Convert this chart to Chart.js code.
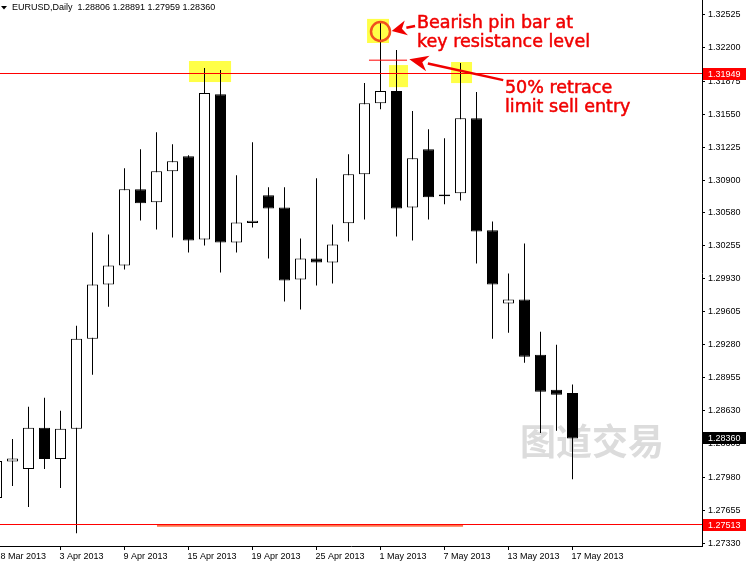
<!DOCTYPE html>
<html>
<head>
<meta charset="utf-8">
<script src="https://cdn.jsdelivr.net/npm/chart.js@4.4.1/dist/chart.umd.min.js"></script>
<style>
  html, body { margin: 0; padding: 0; background: #fff; }
  #wrap { width: 746px; height: 563px; position: relative; }
</style>
</head>
<body>
<div id="wrap"><canvas id="chart"></canvas></div>
<script>
// EURUSD daily candles, 28 Mar - 17 May 2013
var dates = ['28 Mar 2013', '29 Mar 2013', '1 Apr 2013', '2 Apr 2013', '3 Apr 2013', '4 Apr 2013', '5 Apr 2013',
    '8 Apr 2013', '9 Apr 2013', '10 Apr 2013', '11 Apr 2013', '12 Apr 2013', '15 Apr 2013', '16 Apr 2013',
    '17 Apr 2013', '18 Apr 2013', '19 Apr 2013', '22 Apr 2013', '23 Apr 2013', '24 Apr 2013', '25 Apr 2013',
    '26 Apr 2013', '29 Apr 2013', '30 Apr 2013', '1 May 2013', '2 May 2013', '3 May 2013', '6 May 2013',
    '7 May 2013', '8 May 2013', '9 May 2013', '10 May 2013', '13 May 2013', '14 May 2013', '15 May 2013',
    '16 May 2013', '17 May 2013'];
var opens = [1.27773, 1.28133, 1.28059, 1.28464, 1.28158, 1.28454, 1.29341, 1.29873, 1.30060, 1.30810,
    1.30682, 1.30987, 1.31135, 1.30317, 1.31746, 1.30287, 1.30478, 1.30751, 1.30632, 1.29922, 1.30130,
    1.30090, 1.30475, 1.30958, 1.31657, 1.31776, 1.30632, 1.31204, 1.30760, 1.30770, 1.31510, 1.30406,
    1.29686, 1.29725, 1.29183, 1.28838, 1.28806];
var highs = [1.28217, 1.28355, 1.28671, 1.28759, 1.28631, 1.29469, 1.30386, 1.30366, 1.31017, 1.31204,
    1.31372, 1.31253, 1.31145, 1.32003, 1.31983, 1.30948, 1.31273, 1.30829, 1.30829, 1.30327, 1.30918,
    1.30465, 1.31155, 1.31855, 1.32456, 1.32180, 1.31579, 1.31401, 1.31312, 1.32052, 1.31766, 1.30494,
    1.29982, 1.30277, 1.29410, 1.29282, 1.28891];
var lows = [1.27695, 1.27892, 1.27685, 1.28059, 1.27872, 1.27428, 1.28986, 1.29656, 1.30021, 1.30504,
    1.30415, 1.30337, 1.30189, 1.30258, 1.29991, 1.30189, 1.30435, 1.30130, 1.29706, 1.29627, 1.29863,
    1.29883, 1.30297, 1.30514, 1.31598, 1.30346, 1.30307, 1.30514, 1.30662, 1.30701, 1.30080, 1.29341,
    1.29400, 1.29104, 1.28414, 1.28434, 1.27959];
var closes = [1.28138, 1.28163, 1.28464, 1.28158, 1.28454, 1.29341, 1.29873, 1.30060, 1.30810, 1.30672,
    1.30987, 1.31086, 1.30307, 1.31756, 1.30287, 1.30484, 1.30501, 1.30622, 1.29913, 1.30130, 1.30090,
    1.30267, 1.30958, 1.31657, 1.31776, 1.30622, 1.31115, 1.30731, 1.30741, 1.31510, 1.30396, 1.29873,
    1.29725, 1.29163, 1.28818, 1.28789, 1.28360];

var yTicks = [1.32525, 1.32200, 1.31875, 1.31550, 1.31225, 1.30900, 1.30580, 1.30255, 1.29930, 1.29605,
    1.29280, 1.28955, 1.28630, 1.28305, 1.27980, 1.27655, 1.27330];
var xTickIdx = [0, 4, 8, 12, 16, 20, 24, 28, 32, 36];

var resistance = 1.31949;
var support = 1.27513;
var entryLevel = 1.32080;
var lastPrice = closes[closes.length - 1];

// view range
var xMin = 0.21875, xMax = 44.09375;
var yMin = 1.2730153, yMax = 1.3267194;

var watermark = '图道交易';
var symbolTitle = 'EURUSD,Daily  ' + [opens[36], highs[36], lows[36], closes[36]].map(function(v) { return v.toFixed(5); }).join(' ');

// yellow marker boxes: [fromIdx, toIdx, topPrice, bottomPrice]
var highlights = [
    [12.03, 14.66, 1.32072, 1.31865],
    [23.16, 24.53, 1.32486, 1.32249],
    [24.53, 25.72, 1.32032, 1.31815],
    [28.41, 29.72, 1.32062, 1.31855]
];

var axisFont = { family: 'Liberation Sans', size: 9 };
var noteFont = '17.5px "DejaVu Sans"';

var bodies = [], wicks = [], bodyColors = [];
for (var i = 0; i < dates.length; i++) {
    bodies.push({ x: i, y: [opens[i], closes[i]] });
    wicks.push({ x: i, y: [lows[i], highs[i]] });
    bodyColors.push(closes[i] >= opens[i] ? '#ffffff' : '#000000');
}

function hline(price, from, to) {
    return [{ x: from, y: price }, { x: to, y: price }];
}

function drawArrow(ctx, x1, y1, x2, y2, headLen, headW) {
    var ang = Math.atan2(y2 - y1, x2 - x1);
    var bx = x2 - headLen * Math.cos(ang), by = y2 - headLen * Math.sin(ang);
    ctx.beginPath();
    ctx.moveTo(x1, y1);
    ctx.lineTo(bx, by);
    ctx.stroke();
    ctx.beginPath();
    ctx.moveTo(x2, y2);
    ctx.lineTo(bx + headW * Math.sin(ang), by - headW * Math.cos(ang));
    ctx.lineTo(bx + headLen * 0.3 * Math.cos(ang), by + headLen * 0.3 * Math.sin(ang));
    ctx.lineTo(bx - headW * Math.sin(ang), by + headW * Math.cos(ang));
    ctx.closePath();
    ctx.fill();
}

function note(ctx, text, x, y) {
    ctx.fillText(text, x, y);
    ctx.strokeText(text, x, y);
}

var annotate = {
    id: 'annotate',
    beforeDatasetsDraw: function(chart) {
        var ctx = chart.ctx, xs = chart.scales.x, ys = chart.scales.y;
        ctx.save();
        ctx.fillStyle = '#dcdcdc';
        ctx.font = 'bold 36px "Noto Sans CJK SC"';
        ctx.textBaseline = 'middle';
        ctx.fillText(watermark, xs.getPixelForValue(32.72), ys.getPixelForValue(1.28335));
        ctx.fillStyle = 'rgba(255,255,0,0.72)';
        highlights.forEach(function(h) {
            var x1 = xs.getPixelForValue(h[0]), x2 = xs.getPixelForValue(h[1]);
            var y1 = ys.getPixelForValue(h[2]), y2 = ys.getPixelForValue(h[3]);
            ctx.fillRect(x1, y1, x2 - x1, y2 - y1);
        });
        ctx.restore();
    },
    afterDraw: function(chart) {
        var ctx = chart.ctx, xs = chart.scales.x, ys = chart.scales.y;
        ctx.save();

        // symbol line at top left
        ctx.fillStyle = '#000';
        ctx.beginPath();
        ctx.moveTo(1, 6); ctx.lineTo(7, 6); ctx.lineTo(4, 9.5);
        ctx.closePath();
        ctx.fill();
        ctx.font = '9px "Liberation Sans"';
        ctx.textBaseline = 'alphabetic';
        ctx.fillText(symbolTitle, 12, 10);

        // circle on pin bar high
        ctx.strokeStyle = '#f0501e';
        ctx.lineWidth = 2.5;
        ctx.beginPath();
        ctx.arc(xs.getPixelForValue(24), ys.getPixelForValue(1.32362), 9.5, 0, Math.PI * 2);
        ctx.stroke();

        // arrows
        ctx.strokeStyle = '#f00000';
        ctx.fillStyle = '#f00000';
        ctx.lineWidth = 2.5;
        drawArrow(ctx, xs.getPixelForValue(26.16), ys.getPixelForValue(1.32417),
            xs.getPixelForValue(24.70), ys.getPixelForValue(1.32367), 15, 7.5);
        drawArrow(ctx, xs.getPixelForValue(31.67), ys.getPixelForValue(1.31884),
            xs.getPixelForValue(25.80), ys.getPixelForValue(1.32088), 19, 8);

        // notes
        ctx.font = noteFont;
        ctx.lineWidth = 0.5;
        var tx = xs.getPixelForValue(26.28), ty = ys.getPixelForValue(1.32394);
        note(ctx, 'Bearish pin bar at', tx, ty);
        note(ctx, 'key resistance level', tx, ty + 19);
        var tx2 = xs.getPixelForValue(31.78), ty2 = ys.getPixelForValue(1.31758);
        note(ctx, '50% retrace', tx2, ty2);
        note(ctx, 'limit sell entry', tx2, ty2 + 19);

        // price boxes on the axis
        var boxes = [[resistance, '#ff0000'], [lastPrice, '#000000'], [support, '#ff0000']];
        ctx.font = '9px "Liberation Sans"';
        ctx.textBaseline = 'middle';
        boxes.forEach(function(b) {
            var y = Math.round(ys.getPixelForValue(b[0]));
            ctx.fillStyle = b[1];
            ctx.fillRect(703, y - 6, 43, 12);
            ctx.fillStyle = '#ffffff';
            ctx.fillText(b[0].toFixed(5), 708, y + 0.5);
        });
        ctx.restore();
    }
};

new Chart(document.getElementById('chart'), {
    type: 'bar',
    data: {
        datasets: [
            {
                type: 'line', data: hline(resistance, xMin, xMax), borderColor: '#ff0000', borderWidth: 1,
                pointRadius: 0, order: 0
            },
            {
                type: 'line', data: hline(support, xMin, xMax), borderColor: '#ff0000', borderWidth: 1,
                pointRadius: 0, order: 0
            },
            {
                type: 'line', data: hline(support - 0.00012, 10.03, 29.16), borderColor: 'rgba(255,80,30,0.8)',
                borderWidth: 2, pointRadius: 0, order: 0
            },
            {
                type: 'line', data: hline(entryLevel, 23.28, 25.66), borderColor: '#ff0000', borderWidth: 1,
                pointRadius: 0, order: 0
            },
            {
                data: bodies, backgroundColor: bodyColors, borderColor: '#000', borderWidth: 1,
                borderSkipped: false, barThickness: 11, grouped: false, inflateAmount: 0, order: 1
            },
            {
                data: wicks, backgroundColor: '#000', borderWidth: 0, barThickness: 1,
                grouped: false, inflateAmount: 0, order: 2
            }
        ]
    },
    options: {
        responsive: true,
        maintainAspectRatio: false,
        animation: false,
        events: [],
        layout: { padding: 0 },
        plugins: { legend: { display: false }, tooltip: { enabled: false }, title: { display: false } },
        scales: {
            x: {
                type: 'linear', min: xMin, max: xMax, offset: false,
                afterBuildTicks: function(s) { s.ticks = xTickIdx.map(function(v) { return { value: v }; }); },
                afterFit: function(s) { s.height = 17; s.paddingLeft = 0; s.paddingRight = 0; },
                ticks: {
                    autoSkip: false, maxRotation: 0, minRotation: 0, align: 'start', padding: 1, labelOffset: -1,
                    color: '#000', font: axisFont,
                    callback: function(v) { return dates[v]; }
                },
                grid: { drawOnChartArea: false, offset: false, tickLength: 4, color: '#000' },
                border: { display: true, color: '#000' }
            },
            y: {
                type: 'linear', position: 'right', min: yMin, max: yMax,
                afterBuildTicks: function(s) { s.ticks = yTicks.map(function(v) { return { value: v }; }); },
                afterFit: function(s) { s.width = 44; s.paddingTop = 0; s.paddingBottom = 0; },
                ticks: {
                    autoSkip: false, padding: 3, color: '#000', font: axisFont,
                    callback: function(v) { return v.toFixed(5); }
                },
                grid: { drawOnChartArea: false, tickLength: 3, color: '#000' },
                border: { display: true, color: '#000' }
            }
        }
    },
    plugins: [annotate]
});
</script>
</body>
</html>
